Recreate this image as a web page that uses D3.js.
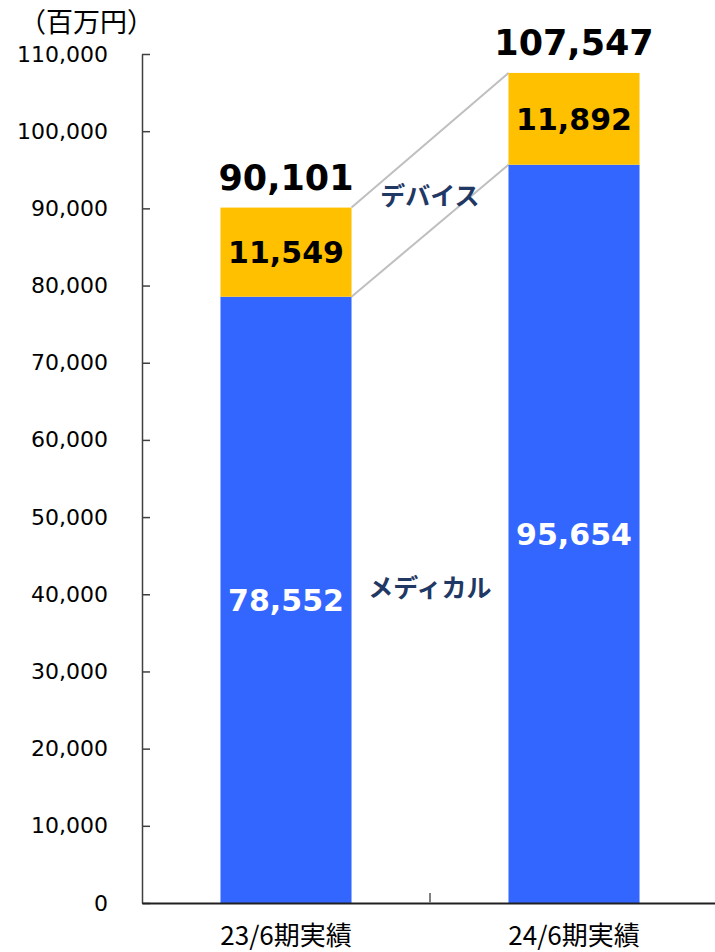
<!DOCTYPE html>
<html>
<head>
<meta charset="utf-8">
<script src="https://cdn.jsdelivr.net/npm/d3@7"></script>
<style>
  body { margin: 0; background: #fff; }
  svg { display: block; }
</style>
</head>
<body>
<svg id="chart" width="715" height="952"></svg>
<script>
const categories = ['23/6期実績', '24/6期実績'];
const medical = [78552, 95654];
const device = [11549, 11892];
const totals = [90101, 107547];
const yTicks = [0, 10000, 20000, 30000, 40000, 50000, 60000, 70000, 80000, 90000, 100000, 110000];
const seriesNames = ['メディカル', 'デバイス'];
const unitLabel = '（百万円）';

const svg = d3.select('#chart');
const numFont = '"DejaVu Sans", Verdana, sans-serif';
const jpFont = '"Noto Sans CJK JP", sans-serif';
const fmt = d3.format(',');

const x = d3.scaleBand()
    .domain(categories)
    .range([142, 718])
    .paddingInner(0.545)
    .paddingOuter(0.2725);

const y = d3.scaleLinear()
    .domain([0, 110000])
    .range([903, 54]);

const blue = '#3366ff';
const orange = '#ffc000';
const navy = '#1f3864';

// connector lines between bars
const lines = svg.append('g');
[d => medical[d], d => totals[d]].forEach(v => {
    lines.append('line')
        .attr('x1', x(categories[0]) + x.bandwidth())
        .attr('y1', y(v(0)))
        .attr('x2', x(categories[1]))
        .attr('y2', y(v(1)))
        .attr('stroke', '#bfbfbf')
        .attr('stroke-width', 2);
});

// bars
const bars = svg.append('g');
categories.forEach((c, i) => {
    bars.append('rect')
        .attr('x', x(c))
        .attr('width', x.bandwidth())
        .attr('y', y(medical[i]))
        .attr('height', y(0) - y(medical[i]))
        .attr('fill', blue);
    bars.append('rect')
        .attr('x', x(c))
        .attr('width', x.bandwidth())
        .attr('y', y(totals[i]))
        .attr('height', y(medical[i]) - y(totals[i]))
        .attr('fill', orange);
});

// y axis
const yAxis = svg.append('g')
    .attr('transform', `translate(${x.range()[0]},0)`)
    .call(d3.axisLeft(y).tickValues(yTicks).tickSizeInner(-8).tickSizeOuter(0).tickPadding(34).tickFormat(fmt));
yAxis.select('.domain').attr('stroke', '#404040').attr('stroke-width', 1.5);
yAxis.selectAll('.tick line').attr('stroke', '#404040').attr('stroke-width', 1.5);
yAxis.selectAll('.tick text')
    .attr('font-family', numFont)
    .attr('font-size', 22)
    .attr('fill', '#000');

// x axis
const xAxis = svg.append('g')
    .attr('transform', `translate(0,${y(0)})`)
    .call(d3.axisBottom(x).tickSize(0).tickPadding(24));
xAxis.select('.domain').attr('stroke', '#202020').attr('stroke-width', 2);
xAxis.selectAll('.tick text')
    .attr('font-family', jpFont)
    .attr('font-size', 26)
    .attr('fill', '#000');
// separator tick between categories
xAxis.append('line')
    .attr('x1', (x(categories[0]) + x.bandwidth() + x(categories[1])) / 2)
    .attr('x2', (x(categories[0]) + x.bandwidth() + x(categories[1])) / 2)
    .attr('y1', 0)
    .attr('y2', -10)
    .attr('stroke', '#808080')
    .attr('stroke-width', 2);

// value labels
const labels = svg.append('g').attr('text-anchor', 'middle').attr('font-family', numFont).attr('font-weight', 'bold');
categories.forEach((c, i) => {
    const cx = x(c) + x.bandwidth() / 2;
    labels.append('text')
        .attr('x', cx)
        .attr('y', (y(0) + y(medical[i])) / 2)
        .attr('dy', '0.38em')
        .attr('font-size', 30)
        .attr('fill', '#fff')
        .text(fmt(medical[i]));
    labels.append('text')
        .attr('x', cx)
        .attr('y', (y(medical[i]) + y(totals[i])) / 2)
        .attr('dy', '0.36em')
        .attr('font-size', 30)
        .attr('fill', '#000')
        .text(fmt(device[i]));
    labels.append('text')
        .attr('x', cx)
        .attr('y', y(totals[i]) - 18)
        .attr('font-size', 35)
        .attr('fill', '#000')
        .text(fmt(totals[i]));
});

// series names
const mid = (x(categories[0]) + x.bandwidth() + x(categories[1])) / 2;
svg.append('text')
    .attr('x', mid).attr('y', 597)
    .attr('text-anchor', 'middle')
    .attr('font-family', jpFont).attr('font-weight', 'bold').attr('font-size', 25)
    .attr('fill', navy)
    .text(seriesNames[0]);
svg.append('text')
    .attr('x', mid).attr('y', 205)
    .attr('text-anchor', 'middle')
    .attr('font-family', jpFont).attr('font-weight', 'bold').attr('font-size', 25)
    .attr('fill', navy)
    .text(seriesNames[1]);

// unit
svg.append('text')
    .attr('x', 19).attr('y', 32)
    .attr('font-family', jpFont).attr('font-size', 27)
    .attr('fill', '#000')
    .text(unitLabel);
</script>
</body>
</html>
